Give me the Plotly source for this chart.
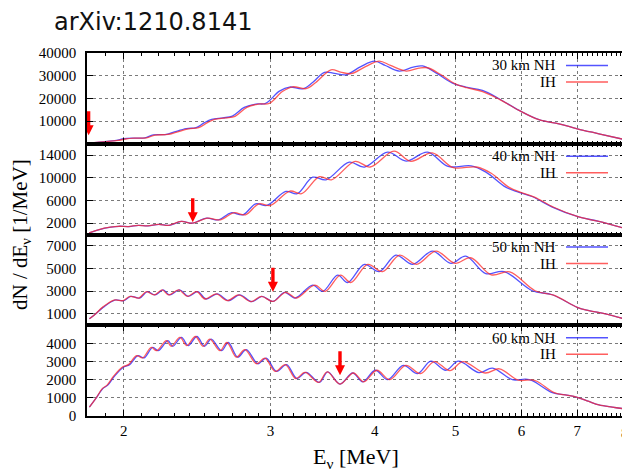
import math
import plotly.graph_objects as go

TITLE = "arXiv:1210.8141"
DIST = ["30 km", "40 km", "50 km", "60 km"]

# ---- 30 km ----
E30_NH = [1.813, 1.87, 1.924, 1.96, 2.0, 2.05, 2.12, 2.17, 2.25, 2.30, 2.377, 2.443, 2.50, 2.55,
          2.63, 2.70, 2.79, 2.88, 2.96, 3.075, 3.162, 3.28, 3.37, 3.482, 3.58, 3.696, 3.85, 3.997,
          4.12, 4.282, 4.45, 4.566, 4.75, 4.96, 5.146, 5.387, 5.64, 5.962, 6.298, 6.656, 7.002,
          7.433, 7.962]
N30_NH = [300, 700, 1180, 1500, 2200, 2500, 2600, 3900, 4100, 5200, 6700, 7100, 9300, 10700,
          11400, 12200, 16000, 17500, 17800, 23200, 25000, 24200, 27000, 31500, 31000, 30400,
          34000, 36400, 34500, 32050, 33800, 34300, 31000, 26750, 25000, 23500, 19850, 14700,
          10600, 8800, 6600, 4400, 1900]
E30_IH = [1.813, 1.87, 1.93, 1.97, 2.01, 2.06, 2.13, 2.18, 2.26, 2.31, 2.39, 2.46, 2.52, 2.57,
          2.65, 2.72, 2.81, 2.90, 2.99, 3.10, 3.19, 3.31, 3.40, 3.546, 3.64, 3.748, 3.90, 4.052,
          4.18, 4.363, 4.52, 4.629, 4.80, 4.99, 5.16, 5.39, 5.64, 5.962, 6.298, 6.656, 7.002,
          7.433, 7.962]
N30_IH = [300, 700, 1150, 1450, 2100, 2450, 2600, 3800, 4100, 5000, 6600, 7100, 9300, 10700,
          11400, 12100, 16000, 17500, 17800, 23000, 25100, 24300, 27000, 32600, 31600, 30900,
          34000, 36450, 34500, 32050, 33300, 33500, 30500, 26500, 24700, 23000, 19700, 14700,
          10600, 8800, 6600, 4400, 1900]

# ---- 40 km ----
E40_NH = [1.818, 1.87, 1.93, 1.975, 2.03, 2.085, 2.14, 2.205, 2.27, 2.346, 2.42, 2.513, 2.60,
          2.69, 2.78, 2.88, 2.97, 3.13, 3.23, 3.371, 3.497, 3.73, 3.889, 4.147, 4.363, 4.629,
          4.90, 5.22, 5.44, 5.746, 5.95, 6.18, 6.535, 7.0, 7.43, 7.96]
N40_NH = [300, 880, 1290, 1450, 1400, 1620, 1520, 1800, 1620, 2300, 2000, 2890, 2590, 3830,
          3480, 5420, 5130, 7600, 7190, 10100, 9650, 12765, 11880, 14530, 12940, 14530, 12000,
          12100, 11000, 8350, 7470, 6700, 4830, 3180, 2300, 1120]
E40_IH = [1.818, 1.868, 1.927, 1.97, 2.025, 2.08, 2.135, 2.20, 2.265, 2.343, 2.42, 2.52, 2.613,
          2.71, 2.80, 2.905, 3.0, 3.165, 3.27, 3.435, 3.55, 3.79, 3.95, 4.22, 4.42, 4.69, 4.97,
          5.30, 5.52, 5.80, 6.0, 6.22, 6.56, 7.0, 7.43, 7.96]
N40_IH = [300, 880, 1290, 1450, 1400, 1620, 1520, 1800, 1620, 2300, 2000, 2890, 2590, 3830,
          3480, 5420, 5130, 7650, 7200, 10200, 9650, 12900, 11900, 14700, 12900, 14400, 11800,
          11900, 10800, 8300, 7400, 6600, 4800, 3180, 2300, 1120]

# ---- 50 km ----
E50_NH = [1.819, 1.85, 1.889, 1.951, 2.0, 2.04, 2.09, 2.135, 2.18, 2.23, 2.27, 2.334, 2.39,
          2.454, 2.51, 2.59, 2.67, 2.755, 2.85, 2.93, 3.02, 3.12, 3.21, 3.371, 3.465, 3.612,
          3.713, 3.889, 4.052, 4.242, 4.442, 4.694, 4.938, 5.146, 5.437, 5.72, 6.183, 6.535,
          7.0, 7.23, 7.57, 7.96]
N50_NH = [570, 1000, 1575, 2225, 2170, 2550, 2400, 2960, 2670, 3110, 2670, 3110, 2550, 2960,
          2315, 2760, 2165, 2670, 2077, 2550, 2100, 2900, 2400, 3537, 2984, 4415, 3770, 5370,
          4725, 6185, 5370, 6534, 5458, 6098, 4555, 4730, 3043, 2690, 1580, 1290, 1000, 570]
E50_IH = [1.819, 1.85, 1.886, 1.947, 1.996, 2.035, 2.085, 2.13, 2.175, 2.224, 2.264, 2.328,
          2.384, 2.447, 2.503, 2.582, 2.662, 2.746, 2.842, 2.925, 3.02, 3.128, 3.222, 3.39, 3.49,
          3.64, 3.745, 3.925, 4.09, 4.285, 4.49, 4.74, 4.995, 5.215, 5.52, 5.81, 6.23, 6.56,
          7.0, 7.23, 7.57, 7.96]
N50_IH = [570, 1000, 1575, 2225, 2170, 2550, 2400, 2960, 2670, 3110, 2670, 3110, 2550, 2960,
          2315, 2760, 2165, 2670, 2077, 2550, 2100, 2900, 2400, 3537, 2984, 4415, 3770, 5370,
          4725, 6185, 5370, 6534, 5458, 5950, 4450, 4700, 3043, 2650, 1580, 1290, 1000, 570]

# ---- 60 km ----
E60_NH = [1.819, 1.85, 1.889, 1.914, 1.951, 2.0, 2.033, 2.08, 2.115, 2.167, 2.20, 2.26, 2.29,
          2.346, 2.39, 2.448, 2.50, 2.547, 2.62, 2.67, 2.74, 2.806, 2.897, 2.964, 3.05, 3.136,
          3.227, 3.31, 3.434, 3.514, 3.635, 3.765, 3.871, 4.008, 4.147, 4.33, 4.504, 4.672,
          4.87, 5.042, 5.338, 5.539, 5.852, 6.07, 6.183, 6.535, 6.78, 7.0, 7.23, 7.433, 7.71,
          7.962]
N60_NH = [490, 940, 1520, 1700, 2210, 2700, 2830, 3330, 3200, 3780, 3600, 4150, 3840, 4330,
          3880, 4380, 3840, 4240, 3600, 4050, 3240, 3660, 2880, 3190, 2460, 2830, 2065, 2400,
          1850, 2430, 1760, 2370, 1880, 2520, 2000, 2790, 2330, 3020, 2520, 3020, 2390, 2640,
          2000, 2030, 1950, 1285, 1160, 1030, 800, 615, 490, 400]
E60_IH = [1.819, 1.85, 1.886, 1.91, 1.946, 1.993, 2.026, 2.072, 2.107, 2.158, 2.19, 2.25, 2.28,
          2.336, 2.38, 2.438, 2.49, 2.537, 2.609, 2.66, 2.73, 2.795, 2.886, 2.953, 3.04, 3.125,
          3.217, 3.30, 3.426, 3.508, 3.635, 3.772, 3.882, 4.025, 4.17, 4.36, 4.541, 4.717,
          4.924, 5.105, 5.427, 5.647, 5.95, 6.17, 6.27, 6.58, 6.80, 7.0, 7.23, 7.433, 7.71,
          7.962]
N60_IH = [490, 940, 1520, 1700, 2210, 2700, 2830, 3330, 3200, 3780, 3600, 4150, 3840, 4330,
          3880, 4380, 3840, 4240, 3600, 4050, 3240, 3660, 2880, 3190, 2460, 2830, 2065, 2400,
          1850, 2430, 1760, 2370, 1880, 2520, 2000, 2790, 2330, 3000, 2500, 3000, 2370, 2600,
          1970, 1990, 1900, 1270, 1150, 1030, 800, 615, 490, 400]

# arrows (energy, tip height)
ARROW_E = [1.815, 2.42, 3.02, 3.635]
ARROW_N = [3750, 2180, 2960, 2250]

Y_MAX = [40000, 16000, 8000, 5000]
Y_TICKS = [[10000, 20000, 30000, 40000], [2000, 6000, 10000, 14000],
           [1000, 3000, 5000, 7000], [0, 1000, 2000, 3000, 4000]]
X_TICKS = [2, 3, 4, 5, 6, 7, 8]
X_LAST = 8  # label of the tick at the right edge (drawn separately so it is not dropped)
X_MINOR = [1.9] + [round(a + b / 10, 1) for a in range(2, 8) for b in range(1, 10)]
X_MIN, X_MAX = 1.807, 8.01

NH = [(E30_NH, N30_NH), (E40_NH, N40_NH), (E50_NH, N50_NH), (E60_NH, N60_NH)]
IH = [(E30_IH, N30_IH), (E40_IH, N40_IH), (E50_IH, N50_IH), (E60_IH, N60_IH)]

BLUE = "rgba(40,40,255,0.8)"
RED = "rgba(255,40,40,0.75)"
SERIF = "Liberation Serif"

# the page body has an 8px margin, so the figure is drawn 8px in from the window edge;
# the figure is made wider than the visible part so the last tick label is not hidden
OFF = 8
W, H = 630, 465
ML, MR, MT, MB = 79, 12, 45, 57
PW, PH = W - ML - MR, H - MT - MB
PANEL_H = PH / 4
ARROW_LEN, HEAD_LEN = 24, 10


def px_x(p):  # screen pixel -> paper x
    return (p - OFF - ML) / PW


def px_y(p):  # screen pixel -> paper y
    return (H - MB - (p - OFF)) / PH


fig = go.Figure()
annotations = []
shapes = []

for i in range(4):
    xn = "x" if i == 0 else f"x{i+1}"
    yn = "y" if i == 0 else f"y{i+1}"
    xk = "xaxis" if i == 0 else f"xaxis{i+1}"
    yk = "yaxis" if i == 0 else f"yaxis{i+1}"
    dom = [1 - (i + 1) / 4, 1 - i / 4]
    fig.add_trace(go.Scatter(x=NH[i][0], y=NH[i][1], mode="lines", xaxis=xn, yaxis=yn,
                             line=dict(color=BLUE, width=1.3, shape="spline", smoothing=1.0),
                             showlegend=False, hoverinfo="skip"))
    fig.add_trace(go.Scatter(x=IH[i][0], y=IH[i][1], mode="lines", xaxis=xn, yaxis=yn,
                             line=dict(color=RED, width=1.3, shape="spline", smoothing=1.0),
                             showlegend=False, hoverinfo="skip"))
    # red arrow: shaft + arrow-down head whose tip sits on the marked point
    per_px = Y_MAX[i] / PANEL_H
    fig.add_trace(go.Scatter(x=[ARROW_E[i], ARROW_E[i]],
                             y=[ARROW_N[i] + ARROW_LEN * per_px, ARROW_N[i] + (HEAD_LEN - 1) * per_px],
                             mode="lines", line=dict(color="red", width=3.4),
                             xaxis=xn, yaxis=yn, showlegend=False, hoverinfo="skip"))
    fig.add_trace(go.Scatter(x=[ARROW_E[i]], y=[ARROW_N[i]], mode="markers",
                             marker=dict(symbol="arrow-down", size=HEAD_LEN, color="red",
                                         line=dict(width=0)),
                             xaxis=xn, yaxis=yn, showlegend=False, hoverinfo="skip"))
    fig.update_layout(**{
        xk: dict(type="log", range=[math.log10(X_MIN), math.log10(X_MAX)], domain=[0, 1],
                 anchor=yn, tickvals=X_TICKS,
                 ticktext=[str(v) if v != X_LAST else "" for v in X_TICKS],
                 ticks="inside", ticklen=6, tickwidth=1, tickcolor="black",
                 showline=True, linecolor="black", linewidth=1.5, mirror="ticks",
                 showgrid=True, gridcolor="#7a7a7a", griddash="dot", gridwidth=1,
                 zeroline=False, showticklabels=(i == 3), ticklabelstandoff=0,
                 ticklabeloverflow="allow", automargin=False,
                 tickfont=dict(family=SERIF, size=15, color="black"),
                 minor=dict(tickmode="array", tickvals=X_MINOR, ticks="inside", ticklen=3,
                            tickwidth=1, tickcolor="black", showgrid=False)),
        yk: dict(range=[0, Y_MAX[i]], domain=dom, anchor=xn, tickvals=Y_TICKS[i],
                 ticktext=[str(v) for v in Y_TICKS[i]],
                 ticks="inside", ticklen=6, tickwidth=1, tickcolor="black",
                 showline=True, linecolor="black", linewidth=1.5, mirror="ticks",
                 showgrid=True, gridcolor="#7a7a7a", griddash="dot", gridwidth=1,
                 zeroline=False, ticklabelstandoff=6, automargin=False,
                 tickfont=dict(family=SERIF, size=15, color="black")),
    })
    # key
    top = OFF + MT + i * PANEL_H
    shapes.append(dict(type="rect", xref="paper", yref="paper", layer="between",
                       x0=px_x(483), x1=px_x(619), y0=px_y(top + 33), y1=px_y(top + 1.5),
                       fillcolor="white", line=dict(width=0)))
    for k, (lab, col, dy) in enumerate([(DIST[i] + " NH", BLUE, 12.5), ("IH", RED, 29)]):
        annotations.append(dict(xref="paper", yref="paper", x=px_x(557), y=px_y(top + dy),
                                xanchor="right", yanchor="middle", text=lab, showarrow=False,
                                borderpad=0, font=dict(family=SERIF, size=15, color="black")))
        shapes.append(dict(type="line", xref="paper", yref="paper", layer="above",
                           x0=px_x(566), x1=px_x(608), y0=px_y(top + dy), y1=px_y(top + dy),
                           line=dict(color=col, width=1.3)))

# label of the right-most x tick, placed at the plot's right edge
annotations.append(dict(xref="paper", yref="paper", x=px_x(625), y=px_y(433),
                        xanchor="center", yanchor="middle", text=str(X_LAST), showarrow=False,
                        borderpad=0, font=dict(family=SERIF, size=15, color="black")))
annotations.append(dict(xref="paper", yref="paper", x=px_x(52), y=px_y(22), xanchor="left",
                        yanchor="middle", text=TITLE, showarrow=False,
                        font=dict(family="DejaVu Sans", size=24, color="#111111")))
annotations.append(dict(xref="paper", yref="paper", x=px_x(356), y=px_y(458),
                        xanchor="center", yanchor="middle", text="E<sub>ν</sub> [MeV]",
                        showarrow=False, font=dict(family=SERIF, size=22, color="black")))
annotations.append(dict(xref="paper", yref="paper", x=px_x(21), y=px_y(235),
                        xanchor="center", yanchor="middle", textangle=-90,
                        text="dN / dE<sub>ν</sub> [1/MeV]", showarrow=False,
                        font=dict(family=SERIF, size=21, color="black")))

fig.update_layout(width=W, height=H, margin=dict(l=ML, r=MR, t=MT, b=MB),
                  paper_bgcolor="white", plot_bgcolor="white",
                  annotations=annotations, shapes=shapes, showlegend=False)

fig.write_html("out.html")
